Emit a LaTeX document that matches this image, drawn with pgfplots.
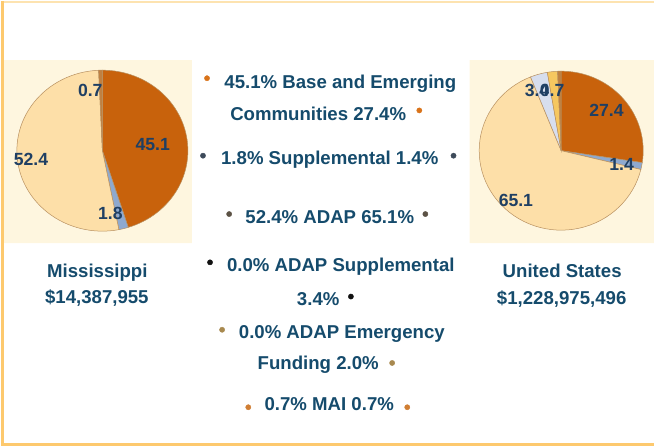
\documentclass[border=0pt]{standalone}
\usepackage{pgfplots}
\pgfplotsset{compat=1.18}
\usepackage{pgfplotstable}
\usepackage{fontspec}
\setmainfont{Liberation Sans}
\definecolor{txt}{HTML}{154B6C}
\definecolor{lbl}{HTML}{1F3F63}
\definecolor{cream}{HTML}{FEF6DF}
\definecolor{bordL}{HTML}{FDC96E}
\definecolor{bordT}{HTML}{FDE3B0}
\definecolor{cBase}{HTML}{C8620C}
\definecolor{cSupp}{HTML}{8EA9CF}
\definecolor{cADAP}{HTML}{FDDFA8}
\definecolor{cASupp}{HTML}{D7DEEE}
\definecolor{cAEmerg}{HTML}{F6C760}
\definecolor{cMAI}{HTML}{C08040}
\definecolor{pieedge}{HTML}{B89060}
\definecolor{b1}{HTML}{D9731A}
\definecolor{b2}{HTML}{3D4A5A}
\definecolor{b3}{HTML}{5C5245}
\definecolor{b4}{HTML}{111111}
\definecolor{b5}{HTML}{A8894F}
\definecolor{b6}{HTML}{D07E33}

\pgfplotstableread{
name ms us
Base 45.1 27.4
Supp 1.8 1.4
ADAP 52.4 65.1
ADAPSupp 0.0 3.4
ADAPEmerg 0.0 2.0
MAI 0.7 0.7
}\piedata

\newcommand\slice[8]{% cx cy rx ry start end color value
  \ifdim #8pt>0pt
  \addplot[fill=#7, draw=pieedge, line width=0.5bp, domain=#6:#5, samples=60, variable=\t]
    ({#1+#3*cos(\t)},{#2+#4*sin(\t)}) -- (axis cs:#1,#2) -- cycle;
  \fi}

\newcommand\getangles[1]{%
  \pgfplotstablegetelem{0}{#1}\of\piedata\edef\vA{\pgfplotsretval}%
  \pgfplotstablegetelem{1}{#1}\of\piedata\edef\vB{\pgfplotsretval}%
  \pgfplotstablegetelem{2}{#1}\of\piedata\edef\vC{\pgfplotsretval}%
  \pgfplotstablegetelem{3}{#1}\of\piedata\edef\vD{\pgfplotsretval}%
  \pgfplotstablegetelem{4}{#1}\of\piedata\edef\vE{\pgfplotsretval}%
  \pgfplotstablegetelem{5}{#1}\of\piedata\edef\vF{\pgfplotsretval}%
  \pgfmathsetmacro\aA{90}%
  \pgfmathsetmacro\aB{\aA-3.6*\vA}%
  \pgfmathsetmacro\aC{\aB-3.6*\vB}%
  \pgfmathsetmacro\aD{\aC-3.6*\vC}%
  \pgfmathsetmacro\aE{\aD-3.6*\vD}%
  \pgfmathsetmacro\aF{\aE-3.6*\vE}%
  \pgfmathsetmacro\aG{\aF-3.6*\vF}%
}
\newcommand\pie[4]{% cx cy rx ry
  \slice{#1}{#2}{#3}{#4}{\aA}{\aB}{cBase}{\vA}
  \slice{#1}{#2}{#3}{#4}{\aB}{\aC}{cSupp}{\vB}
  \slice{#1}{#2}{#3}{#4}{\aC}{\aD}{cADAP}{\vC}
  \slice{#1}{#2}{#3}{#4}{\aD}{\aE}{cASupp}{\vD}
  \slice{#1}{#2}{#3}{#4}{\aE}{\aF}{cAEmerg}{\vE}
  \slice{#1}{#2}{#3}{#4}{\aF}{\aG}{cMAI}{\vF}
}

\begin{document}
\begin{tikzpicture}[x=1bp,y=1bp,
  t/.style={font=\fontsize{18.5bp}{22bp}\selectfont\bfseries, text=txt, inner sep=0pt, anchor=base},
  pl/.style={font=\fontsize{17.5bp}{20bp}\selectfont\bfseries, text=lbl, inner sep=0pt}]
\begin{axis}[at={(0,0)}, anchor=south west, scale only axis,
  width=655bp, height=447bp, xmin=0, xmax=655, ymin=0, ymax=447,
  hide axis, clip=false]
% background panels
\addplot[fill=cream, draw=none] coordinates {(9,202) (196,202) (196,384) (9,384) (9,202)};
\addplot[fill=cream, draw=none] coordinates {(472,202) (655,202) (655,384) (472,384) (472,202)};
% frame
\addplot[draw=bordT, line width=2bp] coordinates {(7,441.5) (655,441.5)};
\addplot[draw=bordL, line width=2.5bp] coordinates {(7.5,1.5) (7.5,442.5)};
\addplot[draw=bordL, line width=2.5bp] coordinates {(6.5,2) (655,2)};
% pies
\getangles{ms}
\pie{107}{294}{85}{80}
\getangles{us}
\pie{563}{294}{81.5}{79}
% pie labels
\node[pl] at (axis cs:95,354) {0.7};
\node[pl] at (axis cs:157,300) {45.1};
\node[pl] at (axis cs:36,285) {52.4};
\node[pl] at (axis cs:115,232) {1.8};
\node[pl] at (axis cs:539,354) {3.4};
\node[pl] at (axis cs:554,354) {0.7};
\node[pl] at (axis cs:608,334) {27.4};
\node[pl] at (axis cs:623,280) {1.4};
\node[pl] at (axis cs:518,245) {65.1};
% titles
\node[t] at (axis cs:102,168) {Mississippi};
\node[t] at (axis cs:101.5,142) {\$14,387,955};
\node[t] at (axis cs:564,168) {United States};
\node[t] at (axis cs:563.5,141) {\$1,228,975,496};
% legend text
\node[t] at (axis cs:343.5,356) {45.1\% Base and Emerging};
\node[t] at (axis cs:321.5,324) {Communities 27.4\%};
\node[t] at (axis cs:333,280) {1.8\% Supplemental 1.4\%};
\node[t] at (axis cs:333,222) {52.4\% ADAP 65.1\%};
\node[t] at (axis cs:344,174) {0.0\% ADAP Supplemental};
\node[t] at (axis cs:321.5,140) {3.4\%};
\node[t] at (axis cs:345,107) {0.0\% ADAP Emergency};
\node[t] at (axis cs:321.5,77) {Funding 2.0\%};
\node[t] at (axis cs:332.5,36) {0.7\% MAI 0.7\%};
% bullets
\addplot[only marks, mark=*, mark size=2.6bp, color=b1] coordinates {(211,366) (422,334)};
\addplot[only marks, mark=*, mark size=2.6bp, color=b2] coordinates {(207,289) (456,289)};
\addplot[only marks, mark=*, mark size=2.6bp, color=b3] coordinates {(233,231) (428,231)};
\addplot[only marks, mark=*, mark size=2.6bp, color=b4] coordinates {(214,183) (354,149)};
\addplot[only marks, mark=*, mark size=2.6bp, color=b5] coordinates {(226,116) (395,83)};
\addplot[only marks, mark=*, mark size=2.6bp, color=b6] coordinates {(252,39) (410,39)};
\end{axis}
\end{tikzpicture}
\end{document}
